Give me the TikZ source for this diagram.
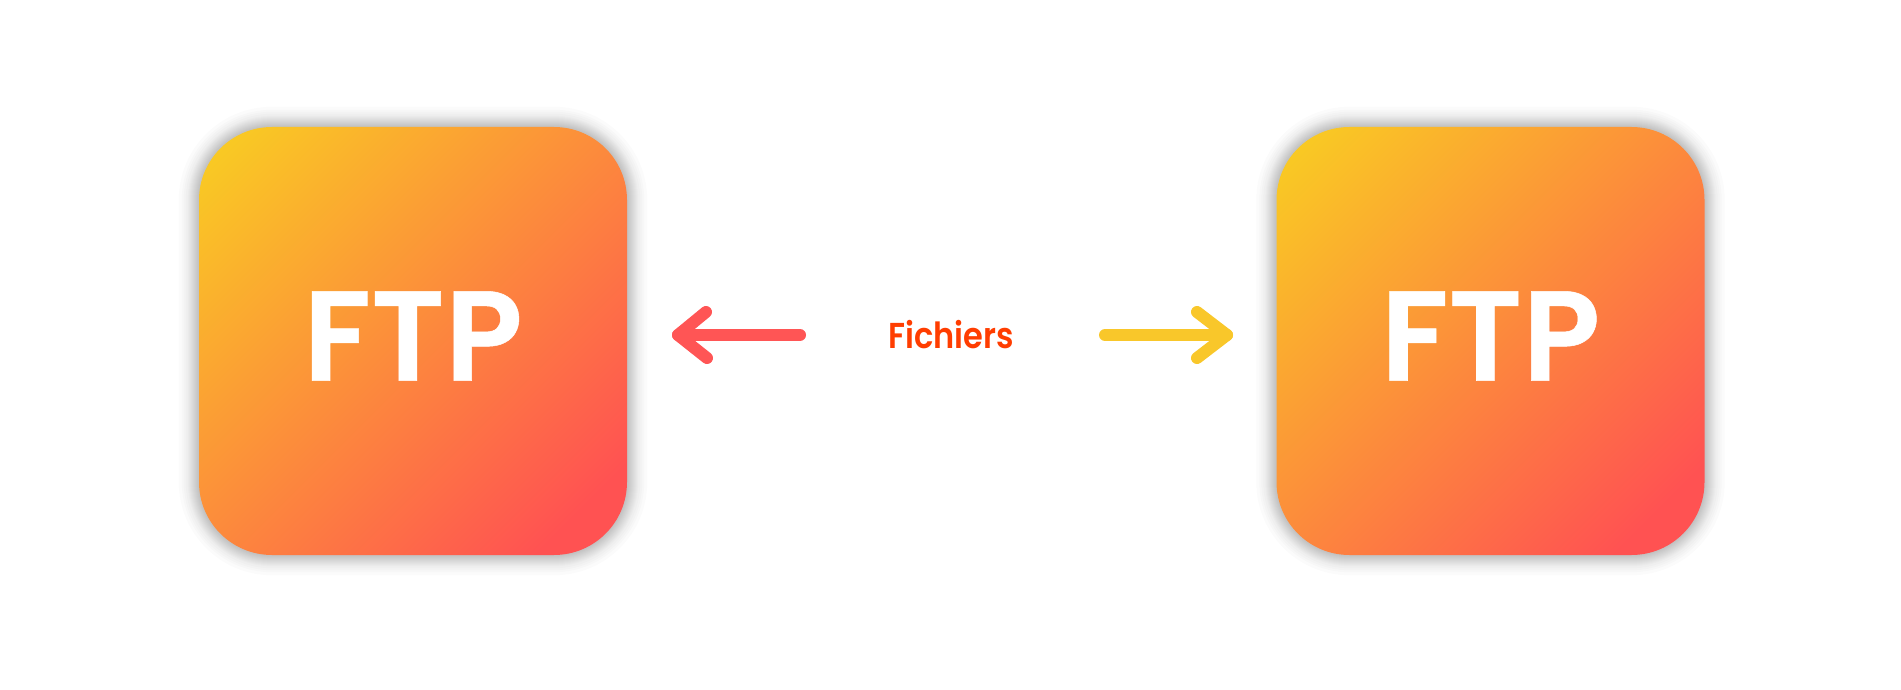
\documentclass[tikz,border=0pt]{standalone}
\usepackage{fontspec}
\setmainfont{Poppins}
\newfontfamily\ftpfont[FakeBold=0.4]{Poppins SemiBold}
\newfontfamily\filefont[FakeStretch=0.89]{Poppins SemiBold}
\usetikzlibrary{calc}
\definecolor{gradstart}{HTML}{F9CB23}
\definecolor{gradend}{HTML}{FF5252}
\definecolor{labelred}{HTML}{FF3D00}
\definecolor{arrowred}{HTML}{FF5555}
\definecolor{arrowyellow}{HTML}{F9C72A}
\pgfdeclarehorizontalshading{ftpgrad}{100bp}{color(0bp)=(gradstart);color(17bp)=(gradstart);color(78bp)=(gradend);color(100bp)=(gradend)}
\tikzset{
  ftpbox/.style={minimum width=428pt,minimum height=428pt,rounded corners=73pt,inner sep=0pt,shading=ftpgrad,shading angle=-45,text=white,font=\fontsize{128}{128}\ftpfont},
  arrowline/.style={line width=12pt,line cap=round,line join=round},
  filelabel/.style={text=labelred,font=\fontsize{36}{36}\filefont,inner sep=0pt}
}
\newcommand{\softshadow}[1]{%
  \foreach \d in {1,2,3,4,5,6,7,8,9,10,11,13,15,17,20}{%
    \fill[black,opacity=0.014,rounded corners=73pt+\d pt] ($(#1.south west)+(-\d pt,-\d pt)$) rectangle ($(#1.north east)+(\d pt,\d pt)$);
  }%
}
\begin{document}
\begin{tikzpicture}[x=1pt,y=-1pt]
\useasboundingbox[fill=white] (0,0) rectangle (1901,690);
\coordinate (lc) at (413,341);
\coordinate (rc) at (1490.5,341);
\path (lc) node[minimum size=428pt,inner sep=0pt] (lshadow) {};
\path (rc) node[minimum size=428pt,inner sep=0pt] (rshadow) {};
\softshadow{lshadow}
\softshadow{rshadow}
\node[ftpbox] (lbox) at (lc) {\raisebox{10pt}{FTP}};
\node[ftpbox] (rbox) at (rc) {\raisebox{10pt}{FTP}};
\node[filelabel,anchor=base] (files) at (951,348) {Fichiers};
\coordinate (ltail) at (800,335);
\coordinate (ltip) at (678,335);
\coordinate (lhu) at (706,312);
\coordinate (lhd) at (707,358);
\coordinate (rtail) at (1105,335);
\coordinate (rtip) at (1227,335);
\coordinate (rhu) at (1197,312);
\coordinate (rhd) at (1197,358);
\draw[arrowline,arrowred] (ltail) -- (ltip);
\draw[arrowline,arrowred] (lhu) -- (ltip) -- (lhd);
\draw[arrowline,arrowyellow] (rtail) -- (rtip);
\draw[arrowline,arrowyellow] (rhu) -- (rtip) -- (rhd);
\end{tikzpicture}
\end{document}
